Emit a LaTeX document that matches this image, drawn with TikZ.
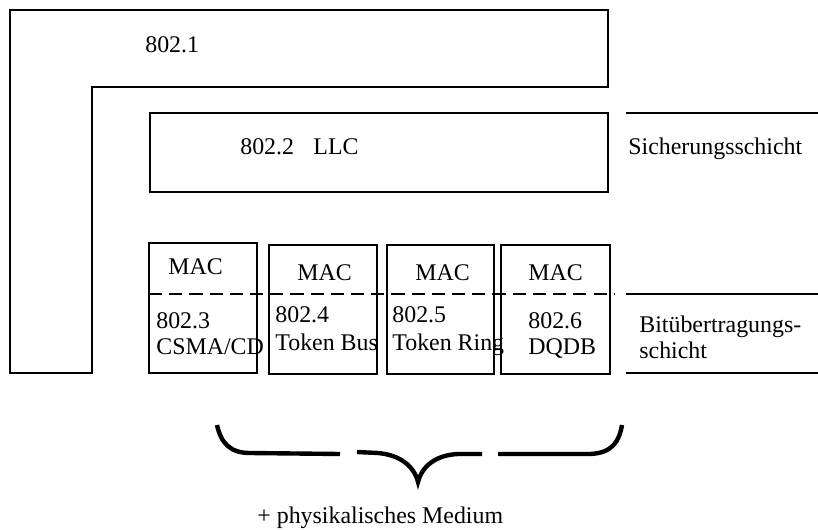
\documentclass[tikz,border=0pt]{standalone}
\usepackage{fontspec}
\setmainfont{Liberation Serif}
\begin{document}
\begin{tikzpicture}[x=0.02cm,y=-0.02cm,
    box/.style={line width=1.1pt},
    layerline/.style={line width=1.5pt},
    macsep/.style={line width=1.6pt, dash pattern=on 7.5pt off 4pt},
    bracepart/.style={line width=2.5pt},
    lbl/.style={anchor=base west, inner sep=0pt, font=\fontsize{13.6}{15}\selectfont}]
        \useasboundingbox (0,0) rectangle (818,530);
        % 802.1 frame
        \draw[box] (10,10) -- (608,10) -- (608,87) -- (92,87) -- (92,373) -- (10,373) -- cycle;
        \node[lbl] (t8021) at (145,53) {802.1};

        % LLC
        \draw[box] (150,113) rectangle (608,192);
        \node[lbl] (t8022) at (240,155) {802.2\hspace{11pt}LLC};

        % MAC boxes
        \draw[box] (149,243) rectangle (257,373);
        \draw[box] (269,245) rectangle (377,374);
        \draw[box] (387,245) rectangle (494,374);
        \draw[box] (501,245) rectangle (610,374);
        \draw[macsep] (149,294) -- (614,294);

        \node[lbl] (mac3) at (168,275) {MAC};
        \node[lbl] (mac4) at (297,280) {MAC};
        \node[lbl] (mac5) at (415,280) {MAC};
        \node[lbl] (mac6) at (528,280) {MAC};

        \node[lbl] (n8023) at (156,328) {802.3};
        \node[lbl] (csma) at (156,354) {CSMA/CD};
        \node[lbl] (n8024) at (275,322) {802.4};
        \node[lbl] (tbus) at (275,350) {Token Bus};
        \node[lbl] (n8025) at (392,322) {802.5};
        \node[lbl] (tring) at (392,350) {Token Ring};
        \node[lbl] (n8026) at (528,328) {802.6};
        \node[lbl] (dqdb) at (528,354) {DQDB};

        % layers
        \draw[layerline] (626,113) -- (818,113);
        \draw[layerline] (626,294) -- (818,294);
        \draw[layerline] (626,373) -- (818,373);
        \node[lbl] (sich) at (628,155) {Sicherungsschicht};
        \node[lbl] (bit1) at (639,332) {Bitübertragungs-};
        \node[lbl] (bit2) at (639,358) {schicht};

        % brace
        \draw[bracepart] (217,425) .. controls (221,443) and (230,453) .. (250,453) -- (340,454);
        \draw[bracepart] (357,452) -- (378,453) .. controls (400,455) and (414,466) .. (418,482)
            .. controls (422,466) and (436,455) .. (458,454) -- (482,454);
        \draw[bracepart] (498,454) -- (590,454) .. controls (612,453) and (619,442) .. (622,425);
        \node[lbl] (medium) at (257,523) {+ physikalisches Medium};
\end{tikzpicture}
\end{document}
